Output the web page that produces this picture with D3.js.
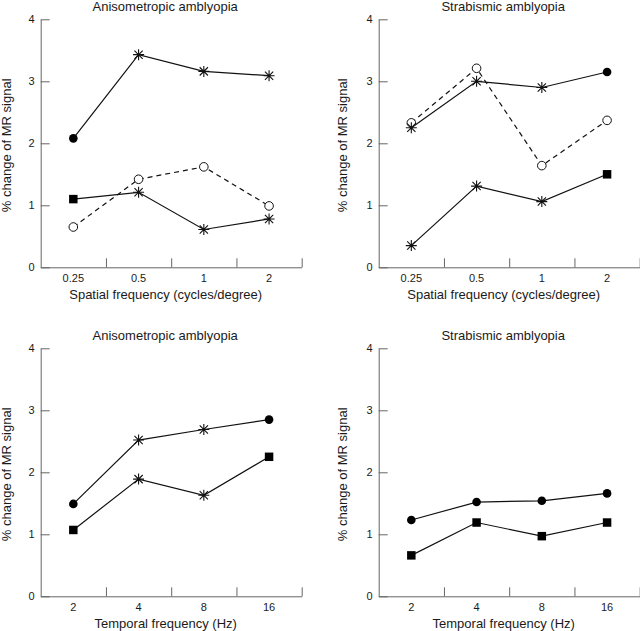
<!DOCTYPE html>
<html>
<head>
<meta charset="utf-8">
<script src="https://cdn.jsdelivr.net/npm/d3@7"></script>
<style>
  html, body { margin: 0; padding: 0; background: #fff; }
  svg { display: block; }
  text { font-family: "Liberation Sans", Arial, Helvetica, sans-serif; fill: #1a1a1a; }
</style>
</head>
<body>
<svg id="chart" width="640" height="631"></svg>
<script>
// ---------- data ----------
const spatialCats = ["0.25", "0.5", "1", "2"];
const temporalCats = ["2", "4", "8", "16"];
const yTicks = [0, 1, 2, 3, 4];

const titleAniso = "Anisometropic amblyopia";
const titleStrab = "Strabismic amblyopia";
const xTitleSpatial = "Spatial frequency (cycles/degree)";
const xTitleTemporal = "Temporal frequency (Hz)";
const yTitle = "% change of MR signal";

// Top-left: anisometropic, spatial
const anisoSpatialUpper = [2.08, 3.43, 3.16, 3.09];
const anisoSpatialUpperMarks = ["dot", "star", "star", "star"];
const anisoSpatialLower = [1.10, 1.21, 0.61, 0.78];
const anisoSpatialLowerMarks = ["square", "star", "star", "star"];
const anisoSpatialOpen = [0.65, 1.42, 1.62, 0.99];
const anisoSpatialOpenMarks = ["open", "open", "open", "open"];

// Top-right: strabismic, spatial
const strabSpatialUpper = [2.25, 3.00, 2.90, 3.15];
const strabSpatialUpperMarks = ["star", "star", "star", "dot"];
const strabSpatialLower = [0.35, 1.31, 1.06, 1.50];
const strabSpatialLowerMarks = ["star", "star", "star", "square"];
const strabSpatialOpen = [2.33, 3.21, 1.64, 2.37];
const strabSpatialOpenMarks = ["open", "open", "open", "open"];

// Bottom-left: anisometropic, temporal
const anisoTemporalUpper = [1.49, 2.52, 2.69, 2.85];
const anisoTemporalUpperMarks = ["dot", "star", "star", "dot"];
const anisoTemporalLower = [1.07, 1.89, 1.63, 2.25];
const anisoTemporalLowerMarks = ["square", "star", "star", "square"];

// Bottom-right: strabismic, temporal
const strabTemporalUpper = [1.23, 1.52, 1.54, 1.66];
const strabTemporalUpperMarks = ["dot", "dot", "dot", "dot"];
const strabTemporalLower = [0.66, 1.19, 0.97, 1.19];
const strabTemporalLowerMarks = ["square", "square", "square", "square"];

// ---------- layout ----------
const svg = d3.select("#chart");
const plotW = 261, plotH = 248;
const panels = [
  { x: 40.7, y: 19.3, yLab: -29.6, title: titleAniso, xTitle: xTitleSpatial, cats: spatialCats,
    series: [
      { v: anisoSpatialOpen, m: anisoSpatialOpenMarks, dashed: true },
      { v: anisoSpatialUpper, m: anisoSpatialUpperMarks, dashed: false },
      { v: anisoSpatialLower, m: anisoSpatialLowerMarks, dashed: false }
    ] },
  { x: 378.7, y: 19.3, yLab: -31.5, title: titleStrab, xTitle: xTitleSpatial, cats: spatialCats,
    series: [
      { v: strabSpatialOpen, m: strabSpatialOpenMarks, dashed: true },
      { v: strabSpatialUpper, m: strabSpatialUpperMarks, dashed: false },
      { v: strabSpatialLower, m: strabSpatialLowerMarks, dashed: false }
    ] },
  { x: 40.7, y: 348.3, yLab: -29.6, title: titleAniso, xTitle: xTitleTemporal, cats: temporalCats,
    series: [
      { v: anisoTemporalUpper, m: anisoTemporalUpperMarks, dashed: false },
      { v: anisoTemporalLower, m: anisoTemporalLowerMarks, dashed: false }
    ] },
  { x: 378.7, y: 348.3, yLab: -31.5, title: titleStrab, xTitle: xTitleTemporal, cats: temporalCats,
    series: [
      { v: strabTemporalUpper, m: strabTemporalUpperMarks, dashed: false },
      { v: strabTemporalLower, m: strabTemporalLowerMarks, dashed: false }
    ] }
];

const axisColor = "#666";

// custom asterisk symbol
const starSymbol = {
  draw(ctx, size) {
    const r = Math.sqrt(size) / 2;
    const d = r * 0.75;
    ctx.moveTo(0, -r); ctx.lineTo(0, r);
    ctx.moveTo(-r, 0); ctx.lineTo(r, 0);
    ctx.moveTo(-d, -d); ctx.lineTo(d, d);
    ctx.moveTo(-d, d); ctx.lineTo(d, -d);
  }
};

panels.forEach(p => {
  const g = svg.append("g").attr("transform", `translate(${p.x},${p.y})`);
  const x = d3.scaleBand().domain(p.cats).range([0, plotW]);
  const xb = d3.scaleLinear().domain([0, p.cats.length]).range([0, plotW]);
  const y = d3.scaleLinear().domain([0, 4]).range([plotH, 0]);

  // y axis (inward ticks)
  const ya = g.append("g").call(d3.axisLeft(y).tickValues(yTicks).tickFormat(d3.format("d"))
      .tickSizeInner(-9).tickSizeOuter(0).tickPadding(6));
  ya.selectAll("line").attr("stroke", axisColor);
  ya.select(".domain").attr("stroke", axisColor);
  ya.selectAll("text").attr("font-size", 11).attr("fill", "#1a1a1a")
    .attr("font-family", "Liberation Sans, Arial, sans-serif");

  // x axis boundary ticks (inward)
  const xa = g.append("g").attr("transform", `translate(0,${plotH})`)
    .call(d3.axisBottom(xb).tickValues(d3.range(1, p.cats.length + 1)).tickFormat("")
      .tickSizeInner(-9).tickSizeOuter(0));
  xa.selectAll("line").attr("stroke", axisColor);
  xa.select(".domain").attr("stroke", axisColor);

  // x category labels
  const xl = g.append("g").attr("transform", `translate(0,${plotH})`)
    .call(d3.axisBottom(x).tickSize(0).tickPadding(6.6));
  xl.select(".domain").remove();
  xl.selectAll("text").attr("font-size", 11).attr("fill", "#1a1a1a")
    .attr("font-family", "Liberation Sans, Arial, sans-serif");

  // titles
  g.append("text").attr("x", 124.5).attr("y", -8.5).attr("text-anchor", "middle")
    .attr("font-size", 13).text(p.title);
  g.append("text").attr("x", 125).attr("y", plotH + 32).attr("text-anchor", "middle")
    .attr("font-size", 13).text(p.xTitle);
  g.append("text").attr("transform", `translate(${p.yLab},${plotH / 2 + 2}) rotate(-90)`)
    .attr("text-anchor", "middle").attr("font-size", 13).text(yTitle);

  // series lines
  const line = d3.line().x((d, i) => x(p.cats[i]) + x.bandwidth() / 2).y(d => y(d));
  p.series.forEach(s => {
    g.append("path").datum(s.v).attr("d", line).attr("fill", "none")
      .attr("stroke", "#111").attr("stroke-width", 1.2)
      .attr("stroke-dasharray", s.dashed ? "5,4" : null);
  });
  // markers
  p.series.forEach(s => {
    s.v.forEach((val, i) => {
      const cx = x(p.cats[i]) + x.bandwidth() / 2, cy = y(val);
      const kind = s.m[i];
      const mg = g.append("g").attr("transform", `translate(${cx},${cy})`);
      if (kind === "dot") {
        mg.append("circle").attr("r", 4.3).attr("fill", "#000");
      } else if (kind === "open") {
        mg.append("circle").attr("r", 4.3).attr("fill", "#fff").attr("stroke", "#111").attr("stroke-width", 1);
      } else if (kind === "square") {
        mg.append("path").attr("d", d3.symbol().type(d3.symbolSquare).size(72)()).attr("fill", "#000");
      } else if (kind === "star") {
        mg.append("path").attr("d", d3.symbol().type(starSymbol).size(121)())
          .attr("fill", "none").attr("stroke", "#111").attr("stroke-width", 1.1);
      }
    });
  });
});
</script>
</body>
</html>
